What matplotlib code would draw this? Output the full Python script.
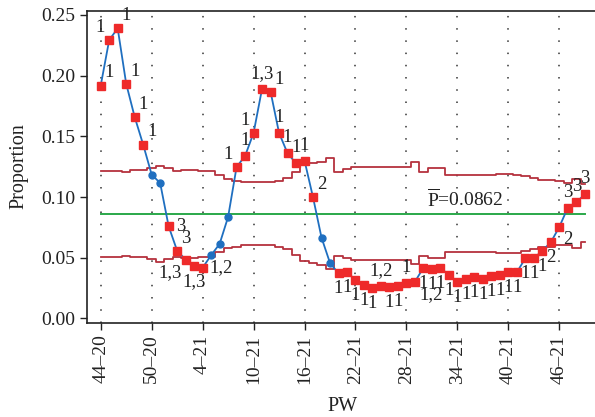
import numpy as np
import matplotlib
matplotlib.use("Agg")
import matplotlib.pyplot as plt

plt.rcParams['font.family'] = ['Liberation Serif', 'DejaVu Serif']
plt.rcParams['mathtext.fontset'] = 'custom'
plt.rcParams['mathtext.rm'] = 'Liberation Serif'

# proportion per week
prop = [0.1918, 0.2294, 0.2390, 0.1934, 0.1660, 0.1432, 0.1185, 0.1116, 0.0759, 0.0558,
        0.0484, 0.0435, 0.0418, 0.0521, 0.0614, 0.0836, 0.1248, 0.1339, 0.1528, 0.1893,
        0.1868, 0.1528, 0.1361, 0.1278, 0.1300, 0.0998, 0.0666, 0.0457, 0.0372, 0.0383,
        0.0315, 0.0276, 0.0254, 0.0268, 0.0259, 0.0268, 0.0295, 0.0303, 0.0418, 0.0408,
        0.0418, 0.0358, 0.0303, 0.0328, 0.0344, 0.0323, 0.0353, 0.0358, 0.0381, 0.0381,
        0.0496, 0.0496, 0.0558, 0.0628, 0.0754, 0.0913, 0.0957, 0.1023]

# upper / lower control limits
ucl = [0.1215, 0.1215, 0.1215, 0.1207, 0.1219, 0.1219, 0.1236, 0.1256, 0.1236, 0.1215,
       0.1227, 0.1227, 0.1215, 0.1211, 0.1178, 0.1153, 0.1133, 0.1124, 0.1124, 0.1124,
       0.1124, 0.1133, 0.1157, 0.1207, 0.1264, 0.1277, 0.1293, 0.1318, 0.1209, 0.1231,
       0.1244, 0.1244, 0.1244, 0.1244, 0.1244, 0.1244, 0.1244, 0.1289, 0.1209, 0.1240,
       0.1240, 0.1186, 0.1186, 0.1186, 0.1186, 0.1186, 0.1186, 0.1190, 0.1190, 0.1182,
       0.1174, 0.1161, 0.1141, 0.1141, 0.1129, 0.1120, 0.1145, 0.1104]
lcl = [0.0509, 0.0509, 0.0509, 0.0517, 0.0504, 0.0504, 0.0488, 0.0468, 0.0488, 0.0509,
       0.0496, 0.0496, 0.0509, 0.0509, 0.0550, 0.0578, 0.0591, 0.0605, 0.0605, 0.0605,
       0.0605, 0.0591, 0.0570, 0.0523, 0.0476, 0.0459, 0.0438, 0.0410, 0.0515, 0.0496,
       0.0482, 0.0482, 0.0482, 0.0482, 0.0482, 0.0482, 0.0482, 0.0448, 0.0515, 0.0496,
       0.0496, 0.0545, 0.0545, 0.0545, 0.0545, 0.0545, 0.0545, 0.0537, 0.0537, 0.0542,
       0.0558, 0.0572, 0.0591, 0.0591, 0.0605, 0.0605, 0.0578, 0.0628]
pbar = 0.0862

# failed tests per point
tests = ['1', '1', '1', '1', '1', '1', '', '', '3', '3',
         '1,3', '1,3', '1,2', '', '', '', '1', '1', '1', '1,3',
         '1', '1', '1', '1', '1', '2', '', '', '1', '1',
         '1', '1', '1', '1,2', '1', '1', '1', '1,2', '1', '1',
         '1', '1', '1', '1', '1', '1', '1', '1', '1', '1',
         '1', '1', '1', '2', '2', '3', '3', '3']
# where each label sits
place = ['ar', 'al', 'ar', 'ar', 'ar', 'ar', '', '', 'r', 'ar',
         'bl', 'b', 'r', '', '', '', 'al', 'a', 'al', 'a',
         'ar', 'a', 'a', 'a', 'a', 'ar', '', '', 'b', 'b',
         'b', 'b', 'b', 'a', 'b', 'b', 'a', 'br', 'b', 'b',
         'b', 'b', 'b', 'b', 'b', 'b', 'b', 'b', 'b', 'b',
         'b', 'b', 'b', 'b', 'br', 'a', 'a', 'a']

tick_labels = ['44–20', '50–20', '4–21', '10–21', '16–21',
               '22–21', '28–21', '34–21', '40–21', '46–21']

offsets = {
    'a': (0, 5, 'center', 'bottom'),
    'ar': (3, 3, 'left', 'bottom'),
    'al': (-3, 3, 'right', 'bottom'),
    'r': (5, 0, 'left', 'center'),
    'b': (0, -5, 'center', 'top'),
    'br': (3, -3, 'left', 'top'),
    'bl': (-3, -3, 'right', 'top'),
}

x = np.arange(len(prop))

fig = plt.figure(figsize=(5.95, 4.17), dpi=100)
ax = fig.add_axes([0.1467, 0.2261, 0.857, 0.7487])

for t in range(0, len(prop), 6):
    ax.axvline(t, color='#333333', lw=1.1, ls=(0, (1, 7)), zorder=0)

ax.plot(x, ucl, drawstyle='steps-mid', color='#b5323e', lw=1.3, zorder=2)
ax.plot(x, lcl, drawstyle='steps-mid', color='#b5323e', lw=1.3, zorder=2)
ax.plot([x[0], x[-1]], [pbar, pbar], color='#2aa84a', lw=1.4, zorder=2)

ax.plot(x, prop, color='#1f6fc0', lw=1.3, marker='o', ms=5,
        mfc='#1f6fc0', mec='#1f6fc0', zorder=3)
fail = np.array([s != '' for s in tests])
ax.plot(x[fail], np.array(prop)[fail], ls='none', marker='s', ms=6.3,
        mfc='#ee2a2a', mec='#ee2a2a', zorder=4)

for i, s in enumerate(tests):
    if s:
        dx, dy, ha, va = offsets[place[i]]
        ax.annotate(s, (x[i], prop[i]), xytext=(dx, dy), textcoords='offset points',
                    ha=ha, va=va, fontsize=13.5, color='#222222', zorder=5)

ax.text(38.4, 0.0922, r'$\overline{\mathrm{P}}$=0.0862', fontsize=14,
        color='#222222', va='baseline', ha='left')

ax.set_xlim(-1.58, 58.46)
ax.set_ylim(-0.0035, 0.2537)
ax.set_xticks(np.arange(0, 55, 6))
ax.set_xticklabels(tick_labels, rotation=90, fontsize=14)
ax.set_yticks(np.arange(0, 0.26, 0.05))
ax.set_yticklabels(['%.2f' % v for v in np.arange(0, 0.26, 0.05)], fontsize=14)
ax.tick_params(direction='out', length=5, width=1, colors='#222222')
for sp in ax.spines.values():
    sp.set_color('#222222')
    sp.set_linewidth(1.2)

ax.set_xlabel('PW', fontsize=14.5, color='#222222')
ax.set_ylabel('Proportion', fontsize=14.5, color='#222222')
ax.yaxis.set_label_coords(-0.115, 0.5)
ax.xaxis.set_label_coords(0.5, -0.238)

fig.savefig('out.png', dpi=100)
